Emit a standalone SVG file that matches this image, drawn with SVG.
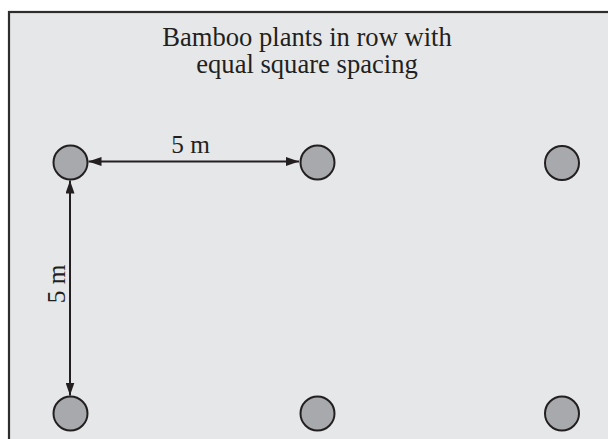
<svg xmlns="http://www.w3.org/2000/svg" width="608" height="439" viewBox="0 0 608 439">
<defs>
<style>
.plant{fill:#a7a9ac;stroke:#231f20;stroke-width:2}
.lbl{font-family:"Liberation Serif","Times New Roman",serif;fill:#231f20}
.dim{stroke:#231f20;stroke-width:2;fill:none}
</style>
<marker id="ah" viewBox="0 0 13 9" refX="13" refY="4.5" markerWidth="13" markerHeight="9" markerUnits="userSpaceOnUse" orient="auto-start-reverse">
<path d="M0,0 L13,4.5 L0,9 Z" fill="#231f20"/>
</marker>
</defs>
<rect id="frame" x="9" y="12" width="620" height="440" fill="#e6e7e8" stroke="#2e2e2e" stroke-width="2.2"/>
<g id="title">
<text class="lbl" x="307" y="46" font-size="26.6" text-anchor="middle">Bamboo plants in row with</text>
<text class="lbl" x="307" y="73" font-size="26.6" text-anchor="middle">equal square spacing</text>
</g>
<g id="p1"><circle class="plant" cx="70.5" cy="162.5" r="17"/></g>
<g id="p2"><circle class="plant" cx="317.5" cy="162.5" r="17"/></g>
<g id="p3"><circle class="plant" cx="562" cy="163" r="17"/></g>
<g id="p4"><circle class="plant" cx="70.5" cy="413.5" r="17"/></g>
<g id="p5"><circle class="plant" cx="317.5" cy="413.5" r="17"/></g>
<g id="p6"><circle class="plant" cx="562" cy="413.5" r="17"/></g>
<g id="connectors">
<line class="dim" x1="88.5" y1="161.5" x2="299" y2="161.5" marker-start="url(#ah)" marker-end="url(#ah)"/>
<line class="dim" x1="70" y1="180.5" x2="70" y2="395.5" marker-start="url(#ah)" marker-end="url(#ah)"/>
<text class="lbl" x="190.5" y="153" font-size="25.3" text-anchor="middle">5 m</text>
<text class="lbl" transform="translate(64.5,284) rotate(-90)" font-size="25.3" text-anchor="middle">5 m</text>
</g>
</svg>
